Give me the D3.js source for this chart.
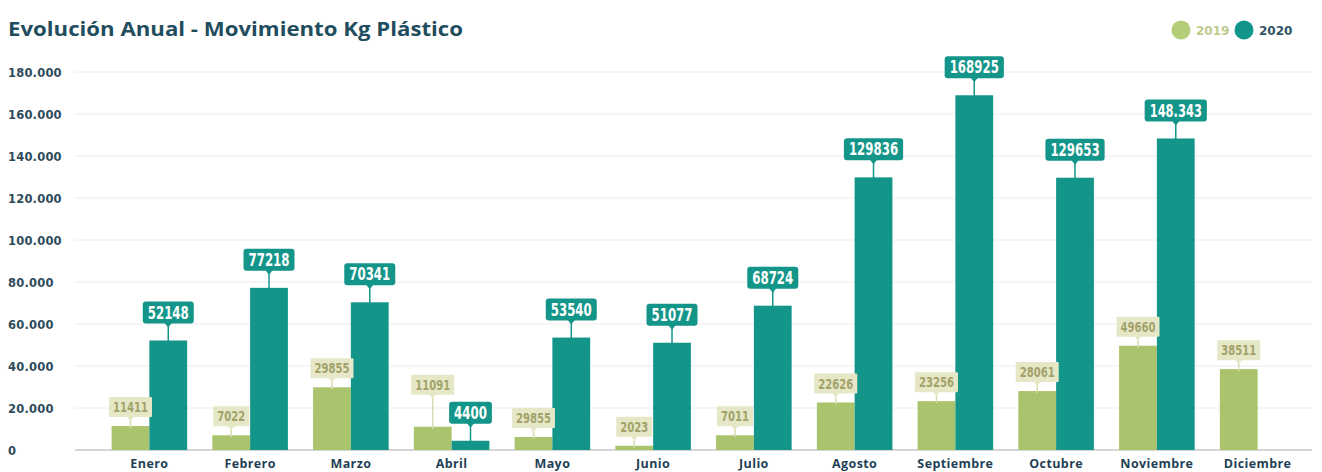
<!DOCTYPE html>
<html lang="es">
<head>
  <meta charset="utf-8">
  <title>Evolución Anual - Movimiento Kg Plástico</title>
  <script src="https://d3js.org/d3.v7.min.js"></script>
  <style>
    body { margin: 0; background: #fff; }
    svg { display: block; }
  </style>
</head>
<body>
<div id="chart"></div>
<script>
  // data
  const months = ['Enero', 'Febrero', 'Marzo', 'Abril', 'Mayo', 'Junio', 'Julio', 'Agosto', 'Septiembre', 'Octubre', 'Noviembre', 'Diciembre']
  const values2019 = [11411, 7022, 29855, 11091, 6200, 2023, 7011, 22626, 23256, 28061, 49660, 38511]
  const labels2019 = ['11411', '7022', '29855', '11091', '29855', '2023', '7011', '22626', '23256', '28061', '49660', '38511']
  const values2020 = [52148, 77218, 70341, 4400, 53540, 51077, 68724, 129836, 168925, 129653, 148343, null]
  const labels2020 = ['52148', '77218', '70341', '4400', '53540', '51077', '68724', '129836', '168925', '129653', '148.343', null]
  const yTicks = [0, 20000, 40000, 60000, 80000, 100000, 120000, 140000, 160000, 180000]
  const yTickLabels = ['0', '20.000', '40.000', '60.000', '80.000', '100.000', '120.000', '140.000', '160.000', '180.000']
  const seriesKeys = ['2019', '2020']

  const W = 1322, H = 472
  const c2019 = '#a9c46c', c2020 = '#14958a'
  const boxFont = '"Liberation Sans Narrow", "DejaVu Sans Condensed", "Roboto", sans-serif'
  const mainFont = '"Open Sans", "Lato", sans-serif'
  const wideFont = '"DejaVu Sans", "Open Sans", sans-serif'

  const svg = d3.select('#chart').append('svg')
    .attr('width', W)
    .attr('height', H)

  // title
  svg.append('text')
    .attr('x', 8).attr('y', 36)
    .attr('textLength', 455)
    .attr('lengthAdjust', 'spacingAndGlyphs')
    .style('font-family', mainFont)
    .style('font-weight', 700)
    .style('font-size', '19.5px')
    .style('fill', '#1f4d5e')
    .text('Evolución Anual - Movimiento Kg Plástico')

  // legend
  const legend = svg.append('g')
  legend.selectAll('circle')
    .data(seriesKeys)
    .enter()
    .append('circle')
      .attr('cx', (d, i) => 1181 + i * 63)
      .attr('cy', 30)
      .attr('r', 9.5)
      .style('fill', d => d === '2019' ? '#b4cd78' : c2020)
  legend.selectAll('text')
    .data(seriesKeys)
    .enter()
    .append('text')
      .attr('x', (d, i) => 1196 + i * 63)
      .attr('y', 35)
      .style('font-family', wideFont)
      .style('font-weight', 700)
      .style('font-size', '12px')
      .style('fill', d => d === '2019' ? '#bdca8c' : '#2f5566')
      .text(d => d)

  // scales
  const y = d3.scaleLinear()
    .domain([0, 180000])
    .range([450, 72])

  const x = d3.scaleBand()
    .domain(months)
    .range([99, 1308])
    .paddingInner(0.25)
    .paddingOuter(0.125)

  const xSub = d3.scaleBand()
    .domain(seriesKeys)
    .range([0, x.bandwidth()])

  // grid + y labels
  const grid = svg.append('g')
  grid.selectAll('line')
    .data(yTicks)
    .enter()
    .append('line')
      .attr('x1', 75).attr('x2', 1312)
      .attr('y1', d => y(d)).attr('y2', d => y(d))
      .style('stroke', d => d === 0 ? '#c9c9c9' : '#ececec')
      .style('stroke-width', d => d === 0 ? 1.5 : 1)

  const yAxis = d3.axisLeft(y).tickValues(yTicks).tickSize(0).tickFormat((d, i) => yTickLabels[i])
  const yg = svg.append('g')
    .attr('transform', 'translate(8,0)')
    .call(yAxis)
  yg.select('.domain').remove()
  yg.selectAll('text')
    .attr('x', 0)
    .attr('dy', '0.35em')
    .attr('text-anchor', 'start')
    .style('font-family', wideFont)
    .style('font-weight', 700)
    .style('font-size', '11.5px')
    .style('letter-spacing', '0.2px')
    .style('fill', '#2e4b5b')

  // x labels
  const xAxis = d3.axisBottom(x).tickSize(0)
  const xg = svg.append('g')
    .attr('transform', 'translate(0,456)')
    .call(xAxis)
  xg.select('.domain').remove()
  xg.selectAll('text')
    .attr('dy', '0.71em')
    .style('font-family', mainFont)
    .style('font-weight', 700)
    .style('font-size', '12.5px')
    .style('letter-spacing', '0.4px')
    .style('fill', '#1f3f55')

  // bars
  const rows = months.map((m, i) => ({ m, i, v19: values2019[i], v20: values2020[i] }))

  svg.append('g').selectAll('rect')
    .data(rows)
    .enter()
    .append('rect')
      .attr('x', d => x(d.m) + xSub('2019'))
      .attr('y', d => y(d.v19))
      .attr('width', xSub.bandwidth())
      .attr('height', d => y(0) - y(d.v19))
      .style('fill', c2019)

  svg.append('g').selectAll('rect')
    .data(rows.filter(d => d.v20 != null))
    .enter()
    .append('rect')
      .attr('x', d => x(d.m) + xSub('2020'))
      .attr('y', d => y(d.v20))
      .attr('width', xSub.bandwidth())
      .attr('height', d => y(0) - y(d.v20))
      .style('fill', c2020)

  // value callouts
  function callout(g, cx, barTop, boxBottom, txt, opt) {
    const w = txt.replace('.', '').length * opt.digitW + (txt.includes('.') ? 3 : 0) + opt.pad * 2
    g.append('line')
      .attr('x1', cx).attr('x2', cx)
      .attr('y1', boxBottom).attr('y2', barTop + 2)
      .style('stroke', opt.line)
      .style('stroke-width', 1.5)
    g.append('path')
      .attr('d', `M${cx - 4},${boxBottom - 1} L${cx + 4},${boxBottom - 1} L${cx},${boxBottom + 4} Z`)
      .style('fill', opt.fill)
    g.append('rect')
      .attr('x', cx - w / 2).attr('y', boxBottom - opt.h)
      .attr('width', w).attr('height', opt.h)
      .attr('rx', opt.rx)
      .style('fill', opt.fill)
    g.append('text')
      .attr('x', cx).attr('y', boxBottom - opt.h / 2)
      .attr('dy', '0.36em')
      .attr('text-anchor', 'middle')
      .attr('textLength', w - opt.pad * 2)
      .attr('lengthAdjust', 'spacingAndGlyphs')
      .style('font-family', boxFont)
      .style('font-weight', 700)
      .style('font-size', opt.size)
      .style('fill', opt.color)
      .text(txt)
    return boxBottom - opt.h
  }

  const opt20 = { h: 22, pad: 5, digitW: 8.2, rx: 3, fill: c2020, line: c2020, color: '#ffffff', size: '17px' }
  const opt19 = { h: 20, pad: 4, digitW: 7, rx: 1, fill: '#e6e7c6', line: '#d9dbb0', color: '#a2a26a', size: '14px' }

  const labels = svg.append('g')
  rows.forEach(d => {
    let top20 = null
    if (d.v20 != null) {
      const cx = x(d.m) + xSub('2020') + xSub.bandwidth() / 2
      top20 = callout(labels, cx, y(d.v20), y(d.v20) - 17, labels2020[d.i], opt20)
    }
    const cx19 = x(d.m) + xSub('2019') + xSub.bandwidth() / 2
    let bottom19 = y(d.v19) - 9
    // lift the 2019 callout above a lower 2020 callout so the two don't collide
    if (top20 != null && d.v20 < d.v19) bottom19 = Math.min(bottom19, top20 - 7)
    callout(labels, cx19, y(d.v19), bottom19, labels2019[d.i], opt19)
  })
</script>
</body>
</html>
